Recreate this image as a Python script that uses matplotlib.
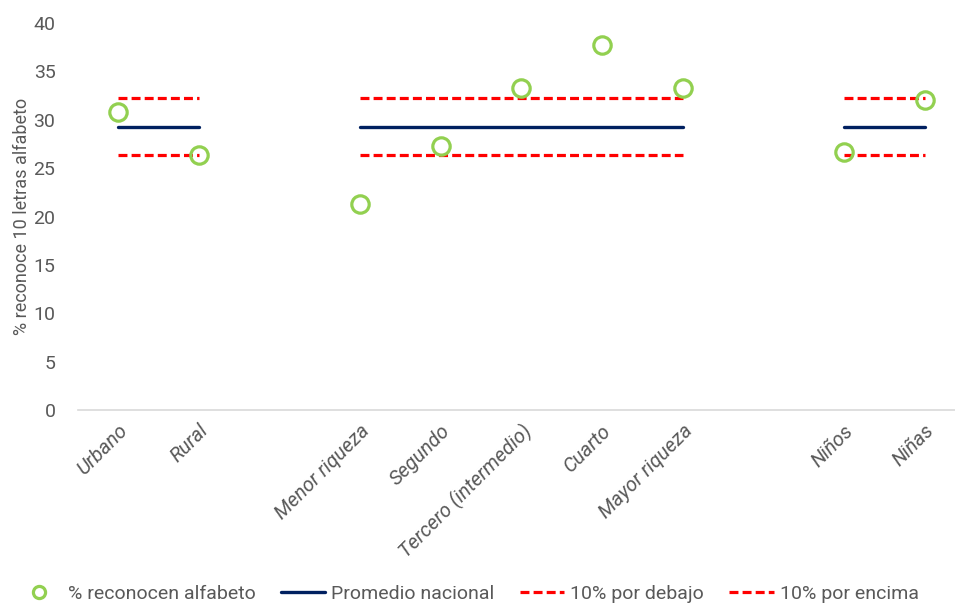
import numpy as np
import matplotlib.pyplot as plt

# category slots, empty strings keep the gaps between groups
categorias = ["Urbano", "Rural", "",
              "Menor riqueza", "Segundo", "Tercero (intermedio)", "Cuarto", "Mayor riqueza", "",
              "Niños", "Niñas"]
reconocen = [30.8, 26.4, np.nan, 21.3, 27.3, 33.3, 37.7, 33.3, np.nan, 26.7, 32.0]
promedio = 29.3

def por_grupo(valor):
    return [np.nan if c == "" else valor for c in categorias]

prom_nacional = por_grupo(promedio)
por_debajo = por_grupo(promedio * 0.9)
por_encima = por_grupo(promedio * 1.1)

plt.rcParams["font.family"] = ["Roboto", "DejaVu Sans"]

gris = "#595959"
x = np.arange(len(categorias))

fig = plt.figure(figsize=(9.55, 6.05), dpi=100)
ax = fig.add_axes([77.6 / 955, 1 - 410 / 605, 887.4 / 955, 387 / 605])

ax.plot(x, reconocen, linestyle="none", marker="o", markersize=12.5,
        markerfacecolor="none", markeredgecolor="#92D050", markeredgewidth=2.3,
        label="% reconocen alfabeto", zorder=4)
ax.plot(x, prom_nacional, color="#002060", lw=2.4, solid_capstyle="round",
        label="Promedio nacional", zorder=3)
ax.plot(x, por_debajo, color="#FF0000", lw=2.3, dashes=(2.8, 1.3),
        label="10% por debajo", zorder=3)
ax.plot(x, por_encima, color="#FF0000", lw=2.3, dashes=(2.8, 1.3),
        label="10% por encima", zorder=3)

ax.set_xlim(-0.5, len(categorias) - 0.5)
ax.set_ylim(0, 40)
ax.set_yticks(range(0, 41, 5))
ax.set_xticks([i for i, c in enumerate(categorias) if c])
ax.set_xticklabels([c for c in categorias if c], rotation=45, ha="right",
                   rotation_mode="anchor", style="italic", fontsize=14.5, color=gris)
ax.tick_params(axis="x", length=0, pad=8)
ax.tick_params(axis="y", length=0, pad=16, labelsize=14, labelcolor=gris)

for lado in ["top", "right", "left"]:
    ax.spines[lado].set_visible(False)
ax.spines["bottom"].set_color("#D9D9D9")
ax.spines["bottom"].set_linewidth(1.2)

ax.set_ylabel("% reconoce 10 letras alfabeto", fontsize=13, color=gris, labelpad=2)

fig.legend(loc="lower center", bbox_to_anchor=(0.49, -0.025), ncol=4, frameon=False,
           fontsize=14, labelcolor=gris, handlelength=2.3, handletextpad=0.3,
           columnspacing=1.3, markerscale=0.7)

fig.savefig("out.png", dpi=100)
